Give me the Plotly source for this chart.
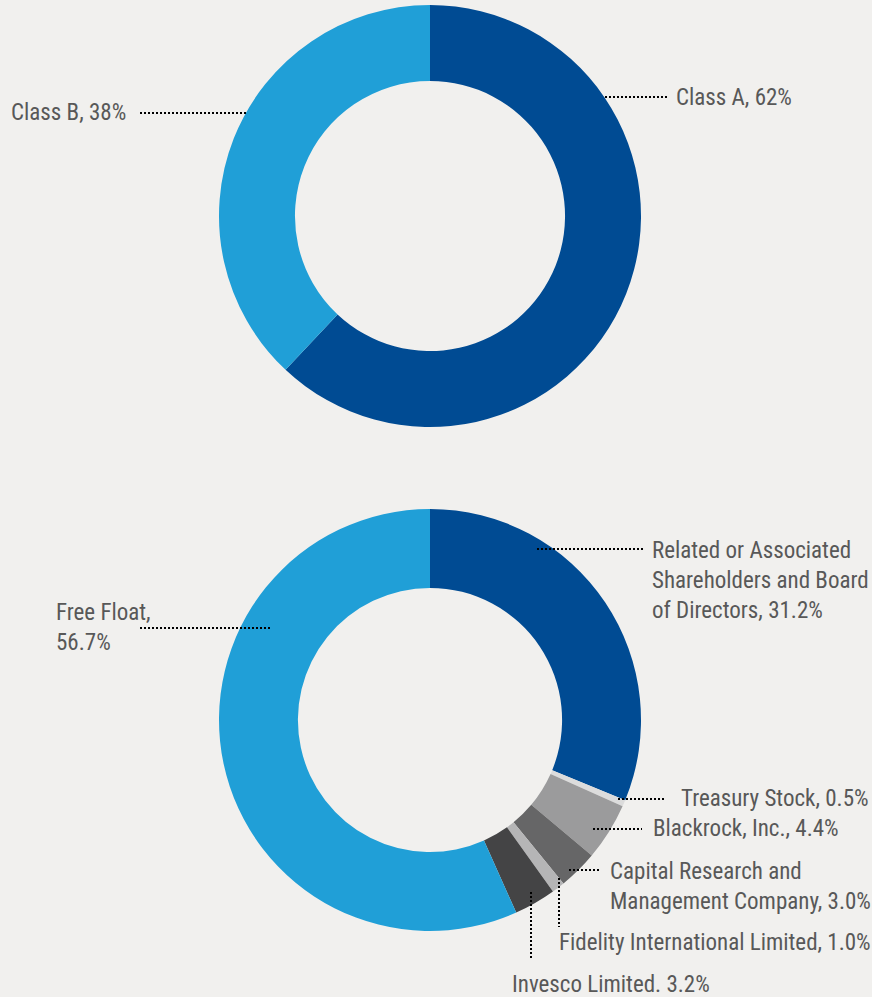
import plotly.graph_objects as go

W, H = 872, 997

# ---- data ----
class_labels = ["Class A", "Class B"]
class_values = [62, 38]
class_colors = ["#004b93", "#209fd7"]

holder_labels = [
    "Related or Associated Shareholders and Board of Directors",
    "Treasury Stock",
    "Blackrock, Inc.",
    "Capital Research and Management Company",
    "Fidelity International Limited",
    "Invesco Limited",
    "Free Float",
]
holder_values = [31.2, 0.5, 4.4, 3.0, 1.0, 3.2, 56.7]
holder_colors = ["#004b93", "#dcdcdc", "#9b9b9c", "#666667", "#b5b5b6", "#444445", "#209fd7"]

BG = "#f1f0ee"
TXT = "#585858"
FONT = "Liberation Sans Narrow, Roboto Condensed, Arial Narrow, Roboto, sans-serif"


def px(x):
    return x / W


def py(y):
    return 1 - y / H


fig = go.Figure()
fig.add_trace(go.Pie(
    labels=class_labels, values=class_values, hole=0.64, sort=False,
    direction="clockwise", rotation=0,
    marker=dict(colors=class_colors, line=dict(width=0)),
    textinfo="none", hoverinfo="label+value", showlegend=False,
    domain=dict(x=[px(219), px(641)], y=[py(427), py(5)]),
))
fig.add_trace(go.Pie(
    labels=holder_labels, values=holder_values, hole=0.626, sort=False,
    direction="clockwise", rotation=0,
    marker=dict(colors=holder_colors, line=dict(width=0)),
    textinfo="none", hoverinfo="label+value", showlegend=False,
    domain=dict(x=[px(219), px(641)], y=[py(931), py(509)]),
))

# leader lines (pixel positions)
leaders = [
    (605, 97, 668, 97),
    (140, 113, 248, 113),
    (537, 549, 645, 549),
    (618, 799, 665, 799),
    (593, 829, 642, 829),
    (569, 870, 601, 870),
    (559, 878, 559, 927),
    (531, 892, 531, 960),
    (140, 628, 272, 628),
]
shapes = []
for x0, y0, x1, y1 in leaders:
    shapes.append(dict(type="line", xref="paper", yref="paper",
                       x0=px(x0), y0=py(y0), x1=px(x1), y1=py(y1),
                       line=dict(color="#000000", width=2, dash="2px,2px")))

labels = [
    ("Class A, 62%", 674, 97, "left"),
    ("Class B, 38%", 128, 113, "right"),
    ("Related or Associated<br>Shareholders and Board<br>of Directors, 31.2%", 650, 580, "left"),
    ("Treasury Stock, 0.5%", 679, 798, "left"),
    ("Blackrock, Inc., 4.4%", 651, 828, "left"),
    ("Capital Research and<br>Management Company, 3.0%", 608, 886, "left"),
    ("Fidelity International Limited, 1.0%", 557, 942, "left"),
    ("Invesco Limited. 3.2%", 510, 984, "left"),
    ("Free Float,<br>56.7%", 54, 627, "left"),
]
annotations = []
for text, x, y, anchor in labels:
    annotations.append(dict(text=text, x=px(x), y=py(y), xref="paper", yref="paper",
                            xanchor=anchor, yanchor="middle", align="left",
                            showarrow=False,
                            font=dict(family=FONT, size=23, color=TXT)))

fig.update_layout(
    width=W, height=H,
    margin=dict(l=0, r=0, t=0, b=0),
    paper_bgcolor=BG, plot_bgcolor=BG,
    shapes=shapes, annotations=annotations,
)

fig.write_html(
    "out.html",
    config={"displayModeBar": False},
    post_script="document.body.style.margin='0';document.body.style.overflow='hidden';"
                "document.body.style.background='" + BG + "';",
)
